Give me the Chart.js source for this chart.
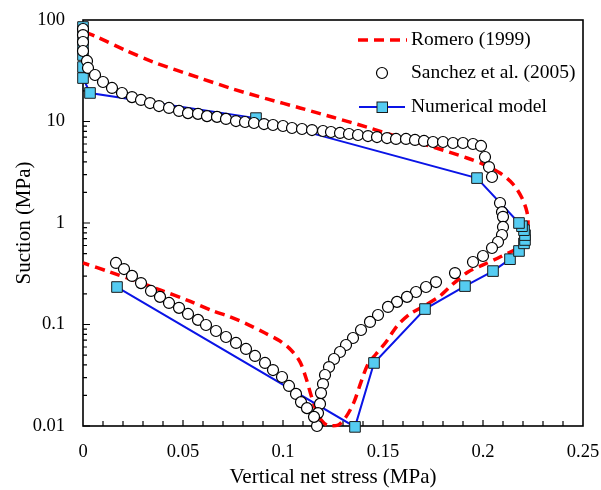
<!DOCTYPE html>
<html>
<head>
<meta charset="utf-8">
<script src="https://cdn.jsdelivr.net/npm/chart.js@4.4.0/dist/chart.umd.min.js"></script>
<style>
  html, body { margin: 0; padding: 0; background: #fff; }
  #wrap { width: 601px; height: 490px; }
</style>
</head>
<body>
<div id="wrap"><canvas id="chart" width="601" height="490"></canvas></div>
<script>
// Romero (1999) - dashed curve
const romeroStress = [0.001, 0.007, 0.021, 0.035, 0.0585, 0.075, 0.092, 0.1085, 0.125, 0.142, 0.1585, 0.175, 0.192, 0.200, 0.2085, 0.215, 0.2195, 0.222, 0.2225, 0.2215, 0.218, 0.2085, 0.200, 0.1925, 0.185, 0.1785, 0.1705, 0.1635, 0.157, 0.1515, 0.1465, 0.1425, 0.139, 0.1355, 0.1315, 0.1275, 0.1225, 0.119, 0.1165, 0.114, 0.1115, 0.1085, 0.104, 0.0985, 0.091, 0.082, 0.0735, 0.065, 0.052, 0.0385, 0.025, 0.0135, 0];
const romeroSuction = [76.2, 68.0, 50.6, 38.6, 26.8, 20.9, 16.7, 13.6, 11.0, 8.8, 6.95, 5.61, 4.37, 3.81, 3.11, 2.42, 1.76, 1.28, 0.955, 0.745, 0.58, 0.462, 0.386, 0.329, 0.251, 0.191, 0.152, 0.127, 0.0966, 0.0673, 0.0512, 0.0408, 0.0271, 0.0172, 0.0123, 0.0102, 0.0101, 0.0115, 0.0144, 0.0202, 0.0297, 0.0428, 0.0561, 0.0687, 0.0824, 0.101, 0.119, 0.136, 0.174, 0.219, 0.274, 0.329, 0.404];

// Sanchez et al. (2005) - experimental points
const sanchezStress = [0, 0, 0, 0, 0.002, 0.0025, 0.006, 0.010, 0.0145, 0.0195, 0.0245, 0.029, 0.0335, 0.038, 0.043, 0.048, 0.0525, 0.0575, 0.062, 0.067, 0.0715, 0.0765, 0.081, 0.0855, 0.0905, 0.095, 0.100, 0.1045, 0.1095, 0.1145, 0.120, 0.124, 0.1285, 0.133, 0.1375, 0.1425, 0.147, 0.152, 0.1565, 0.1615, 0.166, 0.1705, 0.175, 0.180, 0.185, 0.190, 0.195, 0.199, 0.201, 0.203, 0.2045,
  0.2085, 0.2095, 0.210, 0.210, 0.2095, 0.2075, 0.2045, 0.200, 0.195, 0.186,
  0.1765, 0.1715, 0.1665, 0.162, 0.157, 0.1525, 0.1475, 0.1435, 0.139, 0.135, 0.1315, 0.1285, 0.1255, 0.123, 0.121, 0.120, 0.119, 0.1185, 0.1175, 0.117,
  0.0165, 0.0205, 0.0245, 0.029, 0.034, 0.0385, 0.043, 0.048, 0.0525, 0.0575, 0.0615, 0.0665, 0.0715, 0.0765, 0.0815, 0.086, 0.091, 0.095, 0.0995, 0.103, 0.1065, 0.109, 0.112, 0.1155];
const sanchezSuction = [81.5, 71.1, 60.7, 49.5, 39.5, 33.7, 28.7, 24.5, 21.4, 19.1, 17.4, 16.3, 15.2, 14.2, 13.6, 12.7, 12.1, 11.9, 11.3, 11.1, 10.6, 10.1, 9.89, 9.66, 9.44, 9.24, 9.03, 8.63, 8.44, 8.24, 8.06, 7.88, 7.71, 7.53, 7.36, 7.19, 7.03, 6.87, 6.73, 6.73, 6.58, 6.43, 6.28, 6.28, 6.14, 6.14, 6.00, 5.74, 4.47, 3.56, 2.84,
  1.574, 1.28, 1.15, 0.914, 0.762, 0.650, 0.567, 0.473, 0.413, 0.321,
  0.262, 0.234, 0.209, 0.187, 0.167, 0.149, 0.124, 0.106, 0.0883, 0.0736, 0.0628, 0.0536, 0.0457, 0.0381, 0.0318, 0.0259, 0.0211, 0.0165, 0.0134, 0.010,
  0.404, 0.352, 0.301, 0.256, 0.214, 0.187, 0.163, 0.146, 0.127, 0.111, 0.0989, 0.0863, 0.0753, 0.0658, 0.0574, 0.049, 0.0418, 0.0356, 0.0304, 0.0248, 0.0207, 0.0172, 0.015, 0.0123];

// Numerical model
const modelStress = [0.017, 0.136, 0.1455, 0.171, 0.191, 0.205, 0.2135, 0.218, 0.2205, 0.221, 0.221, 0.2205, 0.2195, 0.218, 0.197, 0.0865, 0.0035, 0, 0, 0, 0, 0, 0];
const modelSuction = [0.234, 0.0098, 0.0418, 0.142, 0.239, 0.336, 0.44, 0.53, 0.63, 0.68, 0.76, 0.85, 0.93, 1.0, 2.77, 10.8, 19.1, 26.8, 34.4, 45.2, 56.7, 71, 85.3];

const xTicks = [0, 0.05, 0.1, 0.15, 0.2, 0.25];
const yTicks = [0.01, 0.1, 1, 10, 100];

const serif = '"Liberation Serif", "Times New Roman", serif';

function toPoints(xs, ys) {
    return xs.map((x, i) => ({ x: x, y: ys[i] }));
}

// keep the plot box where the layout padding puts it
function fixScale(scale, size) {
    if (scale.isHorizontal()) scale.height = size;
    else scale.width = size;
    scale.paddingLeft = 0;
    scale.paddingRight = 0;
    scale.paddingTop = 0;
    scale.paddingBottom = 0;
}

// frame and inward tick marks, drawn under the data
const framePlugin = {
    id: 'frame',
    beforeDatasetsDraw(chart) {
        const ctx = chart.ctx;
        const area = chart.chartArea;
        const xs = chart.scales.x;
        const ys = chart.scales.y;
        ctx.save();
        ctx.strokeStyle = '#000';
        ctx.lineWidth = 1.6;
        ctx.strokeRect(area.left, area.top, area.right - area.left, area.bottom - area.top);

        ctx.lineWidth = 1.2;
        ctx.beginPath();
        // x ticks every 0.01
        for (let i = 1; i < 25; i++) {
            const px = xs.getPixelForValue(i / 100);
            const len = i % 5 === 0 ? 6 : 5;
            ctx.moveTo(px, area.bottom);
            ctx.lineTo(px, area.bottom - len);
        }
        // y ticks, log decades
        for (let e = -2; e < 2; e++) {
            for (let m = 1; m <= 9; m++) {
                const v = m * Math.pow(10, e);
                const py = ys.getPixelForValue(v);
                const len = m === 1 ? 7 : 4;
                ctx.moveTo(area.left, py);
                ctx.lineTo(area.left + len, py);
            }
        }
        ctx.stroke();
        ctx.restore();
    }
};

// legend in the top right corner
const legendPlugin = {
    id: 'boxLegend',
    afterDraw(chart) {
        const ctx = chart.ctx;
        ctx.save();
        ctx.font = '19.5px ' + serif;
        ctx.fillStyle = '#000';
        ctx.textBaseline = 'middle';
        ctx.textAlign = 'left';

        // Romero
        ctx.strokeStyle = '#ff0000';
        ctx.lineWidth = 3.5;
        ctx.setLineDash([10, 6]);
        ctx.beginPath();
        ctx.moveTo(358, 40);
        ctx.lineTo(407, 40);
        ctx.stroke();
        ctx.setLineDash([]);
        ctx.fillText('Romero (1999)', 411, 40);

        // Sanchez
        ctx.lineWidth = 1.2;
        ctx.strokeStyle = '#000';
        ctx.fillStyle = '#fff';
        ctx.beginPath();
        ctx.arc(382, 73, 5.5, 0, Math.PI * 2);
        ctx.fill();
        ctx.stroke();
        ctx.fillStyle = '#000';
        ctx.fillText('Sanchez et al. (2005)', 411, 73);

        // Numerical
        ctx.strokeStyle = '#0a14e6';
        ctx.lineWidth = 2;
        ctx.beginPath();
        ctx.moveTo(359, 107);
        ctx.lineTo(405, 107);
        ctx.stroke();
        ctx.fillStyle = '#55ccf2';
        ctx.strokeStyle = '#1a1a1a';
        ctx.lineWidth = 1;
        ctx.fillRect(377, 102, 10.5, 10.5);
        ctx.strokeRect(377, 102, 10.5, 10.5);
        ctx.fillStyle = '#000';
        ctx.fillText('Numerical model', 411, 107);
        ctx.restore();
    }
};

const ctx = document.getElementById('chart').getContext('2d');
new Chart(ctx, {
    type: 'scatter',
    data: {
        datasets: [
            {
                label: 'Sanchez et al. (2005)',
                data: toPoints(sanchezStress, sanchezSuction),
                showLine: false,
                pointStyle: 'circle',
                pointRadius: 5.5,
                pointBackgroundColor: '#ffffff',
                pointBorderColor: '#000000',
                pointBorderWidth: 1.2,
                clip: false,
                order: 0
            },
            {
                label: 'Numerical model',
                data: toPoints(modelStress, modelSuction),
                showLine: true,
                borderColor: '#0a14e6',
                borderWidth: 2,
                tension: 0,
                pointStyle: 'rect',
                pointRadius: 7.5,
                pointBackgroundColor: '#55ccf2',
                pointBorderColor: '#1a1a1a',
                pointBorderWidth: 1,
                clip: false,
                order: 1
            },
            {
                label: 'Romero (1999)',
                data: toPoints(romeroStress, romeroSuction),
                showLine: true,
                borderColor: '#ff0000',
                borderWidth: 3.5,
                borderDash: [10, 6],
                tension: 0.3,
                pointRadius: 0,
                clip: false,
                order: 2
            }
        ]
    },
    options: {
        responsive: false,
        animation: false,
        devicePixelRatio: 1,
        layout: { padding: { left: 0, right: 18, top: 20, bottom: 0 } },
        plugins: {
            legend: { display: false },
            tooltip: { enabled: false }
        },
        scales: {
            x: {
                type: 'linear',
                min: 0,
                max: 0.25,
                afterBuildTicks: scale => { scale.ticks = xTicks.map(v => ({ value: v })); },
                afterFit: scale => fixScale(scale, 64),
                grid: { display: false, drawTicks: false },
                border: { display: false },
                ticks: {
                    padding: 15,
                    color: '#000',
                    font: { family: serif, size: 18.5 },
                    callback: v => String(+v.toFixed(2))
                },
                title: {
                    display: true,
                    text: 'Vertical net stress (MPa)',
                    color: '#000',
                    font: { family: serif, size: 21 },
                    padding: { top: 0, bottom: 0 }
                }
            },
            y: {
                type: 'logarithmic',
                min: 0.01,
                max: 100,
                afterBuildTicks: scale => { scale.ticks = yTicks.map(v => ({ value: v })); },
                afterFit: scale => fixScale(scale, 83),
                grid: { display: false, drawTicks: false },
                border: { display: false },
                ticks: {
                    padding: 18,
                    autoSkip: false,
                    color: '#000',
                    font: { family: serif, size: 18.5 },
                    callback: v => String(v)
                },
                title: {
                    display: true,
                    text: 'Suction (MPa)',
                    color: '#000',
                    font: { family: serif, size: 21 },
                    padding: { top: 12, bottom: 0 }
                }
            }
        }
    },
    plugins: [framePlugin, legendPlugin]
});
</script>
</body>
</html>
